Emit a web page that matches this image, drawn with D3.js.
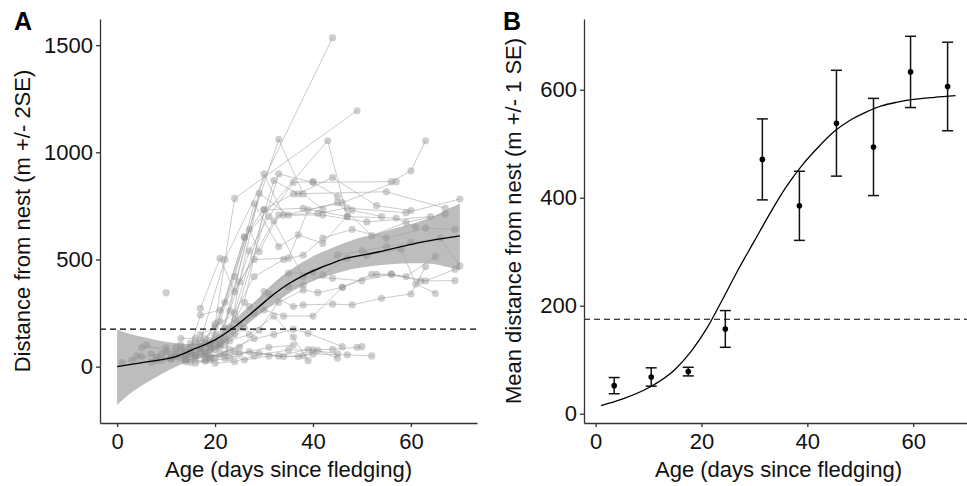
<!DOCTYPE html>
<html>
<head>
<meta charset="utf-8">
<script src="https://cdn.jsdelivr.net/npm/d3@7"></script>
<style>
  body { margin: 0; background: #fff; }
  text { font-family: "Liberation Sans", Arial, sans-serif; }
</style>
</head>
<body>
<div id="chart"></div>
<script>
// panel A: individual tracks (age in days, distance in m)
var tracks = [
  [[1,19],[5,47],[9,60],[13,80],[17,120],[22,500],[44,1535]],
  [[4,50],[8,30],[12,89],[16,60],[20,200],[24,785],[49,1194]],
  [[6,101],[10,70],[14,75],[18,110],[22,300],[33,1061],[38,806],[42,734]],
  [[5,89],[10,89],[15,60],[19,80],[26,603],[43,1054],[47,700]],
  [[8,40],[13,47],[17,95],[21,120],[30,899],[34,707],[46,765],[57,863]],
  [[12,60],[16,40],[20,150],[24,220],[33,899],[40,860],[56,863],[60,913],[63,1054]],
  [[9,30],[14,23],[18,31],[23,180],[32,868],[37,806],[44,883],[53,751],[60,728]],
  [[11,50],[15,70],[19,100],[26,606],[30,734],[36,806],[55,816],[67,739]],
  [[13,132],[16,132],[21,90],[27,641],[29,536],[33,707],[41,715],[47,740],[59,718],[70,782]],
  [[10,345]],
  [[14,40],[18,60],[22,39],[25,396],[29,809],[35,707],[42,707],[51,675],[64,700]],
  [[15,90],[17,241],[21,264],[28,500],[35,506],[39,731],[45,765],[52,611],[59,673],[67,712]],
  [[16,16],[19,31],[22,130],[26,300],[30,731],[38,739],[47,700],[57,693],[61,650]],
  [[17,272],[21,505],[24,350],[32,680],[38,420],[44,412],[50,401],[56,432],[63,400],[69,454]],
  [[12,50],[17,70],[20,16],[24,23],[28,50],[35,78],[40,78],[44,81],[49,90],[50,93]],
  [[14,30],[18,45],[22,60],[26,31],[31,50],[37,47],[40,59],[47,55],[52,50]],
  [[16,50],[20,40],[24,70],[29,62],[34,47],[38,51],[41,75],[45,39]],
  [[15,110],[19,90],[23,120],[27,150],[32,236],[36,137],[39,28]],
  [[18,70],[21,100],[25,200],[30,264],[34,236],[40,236],[46,370],[52,431],[59,420],[65,513]],
  [[19,120],[22,179],[27,280],[31,340],[36,280],[38,288],[44,292],[48,288],[54,319],[60,339],[63,466]],
  [[20,80],[24,150],[28,250],[33,300],[38,358],[41,345],[46,370],[53,431],[56,432],[62,400],[69,401]],
  [[21,60],[25,90],[29,170],[35,373],[38,381],[42,428],[47,505],[51,520],[58,548],[61,386],[65,342]],
  [[19,40],[23,80],[28,130],[32,150],[36,174],[39,156],[46,93]],
  [[22,100],[26,180],[30,350],[35,436],[40,440],[45,520],[50,540],[55,560],[60,580],[66,600],[70,470]],
  [[17,150],[20,185],[24,250],[28,420],[34,500],[38,520],[42,600],[48,640],[55,600],[63,646],[69,640]],
  [[7,60],[11,40],[15,20],[18,25],[23,40],[27,70],[33,50],[39,80],[45,60]],
  [[3,30],[7,20],[11,35],[14,55],[19,50],[25,60],[31,90],[36,100]],
  [[13,100],[17,85],[20,110],[23,260],[27,540],[31,700],[36,860],[40,863],[45,793]],
  [[16,110],[18,130],[21,210],[24,420],[28,760],[33,560],[37,615],[42,575],[48,730],[54,700]]
];

// panel A: fitted curve and its band
var fitAgeA = [0, 6, 12, 16, 20, 23.6, 26, 29, 32, 35.2, 38, 41.3, 44, 46.7, 50, 53.5, 58, 62, 66, 70];
var fitDistA = [0, 22, 47, 85, 125, 179, 222, 280, 338, 389, 425, 459, 483, 505, 520, 536, 560, 580, 596, 610];
var bandAgeA = [0, 3, 6, 9, 12, 15, 18, 21, 24, 27, 30, 33, 36, 40, 44, 48, 52, 56, 60, 64, 68, 70];
var bandLoA = [-178, -120, -75, -35, 0, 25, 50, 90, 150, 205, 260, 310, 355, 400, 430, 455, 470, 478, 482, 480, 462, 450];
var bandHiA = [172, 150, 135, 120, 110, 105, 115, 155, 215, 280, 345, 410, 460, 515, 555, 590, 615, 640, 665, 695, 740, 760];

// panel B: weekly means with 1 SE
var meanAge = [3.5, 10.5, 17.5, 24.5, 31.5, 38.5, 45.5, 52.5, 59.5, 66.5];
var meanDist = [52, 68, 78, 157, 471, 385, 538, 494, 633, 606];
var meanSE = [15, 17, 8, 34, 75, 64, 98, 90, 66, 82];

// panel B: fitted curve
var fitAgeB = [1, 5, 10, 15, 18, 21, 24, 27, 30, 33, 36, 39, 42, 45, 48, 51, 54, 57, 60, 64, 68];
var fitDistB = [15, 27, 48, 82, 115, 158, 212, 268, 320, 372, 420, 460, 493, 522, 543, 558, 570, 577, 582, 586, 589];

var threshold = 175;
var xTicks = [0, 20, 40, 60];
var yTicksA = [0, 500, 1000, 1500];
var yTicksB = [0, 200, 400, 600];

var svg = d3.select('#chart').append('svg')
    .attr('width', 967)
    .attr('height', 486);

var xA = d3.scaleLinear().domain([-3.5, 73.5]).range([100, 477]);
var yA = d3.scaleLinear().domain([-263, 1622]).range([423, 19]);
var xB = d3.scaleLinear().domain([-2.2, 71.3]).range([584, 973]);
var yB = d3.scaleLinear().domain([-17.2, 731]).range([423, 19]);

function drawAxes(x, y, yTicks, yTitle, titleX, letter, letterX) {
    var gx = svg.append('g')
        .attr('transform', 'translate(0,423)')
        .call(d3.axisBottom(x).tickValues(xTicks).tickFormat(d3.format('d'))
            .tickSize(4).tickSizeOuter(0).tickPadding(6));
    var gy = svg.append('g')
        .attr('transform', 'translate(' + x.range()[0] + ',0)')
        .call(d3.axisLeft(y).tickValues(yTicks).tickFormat(d3.format('d'))
            .tickSize(4).tickSizeOuter(0).tickPadding(3));
    [gx, gy].forEach(function(g) {
        g.selectAll('path, line').attr('stroke', '#333').attr('stroke-width', 1.3);
        g.selectAll('text').style('font-size', '22px').attr('fill', '#111');
    });

    var cx = (x.range()[0] + x.range()[1]) / 2;
    svg.append('text')
        .attr('x', cx).attr('y', 477)
        .attr('text-anchor', 'middle')
        .style('font-size', '22px')
        .attr('fill', '#111')
        .text('Age (days since fledging)');

    svg.append('text')
        .attr('transform', 'translate(' + titleX + ',221) rotate(-90)')
        .attr('text-anchor', 'middle')
        .style('font-size', '22px')
        .attr('fill', '#111')
        .text(yTitle);

    svg.append('text')
        .attr('x', letterX).attr('y', 30)
        .style('font-size', '25px')
        .style('font-weight', 'bold')
        .text(letter);
}

// ---- panel A
var bandData = bandAgeA.map(function(a, i) { return [a, bandLoA[i], bandHiA[i]]; });
svg.append('path')
    .datum(bandData)
    .attr('fill', '#bdbdbd')
    .attr('d', d3.area()
        .x(function(d) { return xA(d[0]); })
        .y0(function(d) { return yA(d[1]); })
        .y1(function(d) { return yA(d[2]); })
        .curve(d3.curveMonotoneX));

var trackLine = d3.line()
    .x(function(d) { return xA(d[0]); })
    .y(function(d) { return yA(d[1]); });

svg.append('g').selectAll('path')
    .data(tracks)
    .enter()
    .append('path')
    .attr('d', trackLine)
    .attr('fill', 'none')
    .attr('stroke', '#a0a0a0')
    .attr('stroke-opacity', 0.55)
    .attr('stroke-width', 1);

svg.append('g').selectAll('circle')
    .data(d3.merge(tracks))
    .enter()
    .append('circle')
    .attr('cx', function(d) { return xA(d[0]); })
    .attr('cy', function(d) { return yA(d[1]); })
    .attr('r', 3.6)
    .attr('fill', '#8c8c8c')
    .attr('fill-opacity', 0.42);

svg.append('path')
    .datum(fitAgeA.map(function(a, i) { return [a, fitDistA[i]]; }))
    .attr('fill', 'none')
    .attr('stroke', '#000')
    .attr('stroke-width', 1.4)
    .attr('d', d3.line()
        .x(function(d) { return xA(d[0]); })
        .y(function(d) { return yA(d[1]); })
        .curve(d3.curveMonotoneX));

svg.append('line')
    .attr('x1', 100).attr('x2', 477)
    .attr('y1', yA(threshold)).attr('y2', yA(threshold))
    .attr('stroke', '#000')
    .attr('stroke-width', 1.1)
    .attr('stroke-dasharray', '6,4');

drawAxes(xA, yA, yTicksA, 'Distance from nest (m +/- 2SE)', 30, 'A', 14);

// ---- panel B
svg.append('path')
    .datum(fitAgeB.map(function(a, i) { return [a, fitDistB[i]]; }))
    .attr('fill', 'none')
    .attr('stroke', '#000')
    .attr('stroke-width', 1.3)
    .attr('d', d3.line()
        .x(function(d) { return xB(d[0]); })
        .y(function(d) { return yB(d[1]); })
        .curve(d3.curveMonotoneX));

svg.append('line')
    .attr('x1', 584).attr('x2', 967)
    .attr('y1', yB(threshold)).attr('y2', yB(threshold))
    .attr('stroke', '#000')
    .attr('stroke-width', 1.1)
    .attr('stroke-dasharray', '6,4');

var bars = svg.append('g').selectAll('g')
    .data(meanAge)
    .enter()
    .append('g');

bars.append('line')
    .attr('x1', function(d) { return xB(d); })
    .attr('x2', function(d) { return xB(d); })
    .attr('y1', function(d, i) { return yB(meanDist[i] - meanSE[i]); })
    .attr('y2', function(d, i) { return yB(meanDist[i] + meanSE[i]); })
    .attr('stroke', '#111').attr('stroke-width', 1.5);

[-1, 1].forEach(function(s) {
    bars.append('line')
        .attr('x1', function(d) { return xB(d) - 5.5; })
        .attr('x2', function(d) { return xB(d) + 5.5; })
        .attr('y1', function(d, i) { return yB(meanDist[i] + s * meanSE[i]); })
        .attr('y2', function(d, i) { return yB(meanDist[i] + s * meanSE[i]); })
        .attr('stroke', '#111').attr('stroke-width', 1.5);
});

bars.append('circle')
    .attr('cx', function(d) { return xB(d); })
    .attr('cy', function(d, i) { return yB(meanDist[i]); })
    .attr('r', 2.8)
    .attr('fill', '#000');

drawAxes(xB, yB, yTicksB, 'Mean distance from nest (m +/- 1 SE)', 521, 'B', 503);
</script>
</body>
</html>
